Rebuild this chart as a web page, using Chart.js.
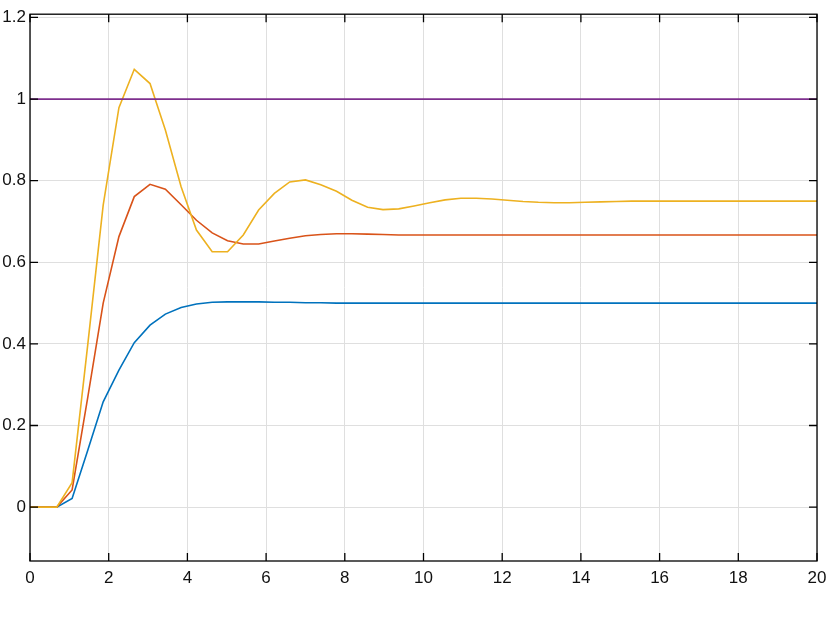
<!DOCTYPE html>
<html>
<head>
<meta charset="utf-8">
<script src="https://cdn.jsdelivr.net/npm/chart.js@4.4.1/dist/chart.umd.min.js"></script>
<style>
    body { margin: 0; background: #fff; }
    #chartBox { width: 840px; height: 619px; }
</style>
</head>
<body>
<div id="chartBox"><canvas id="myChart" width="840" height="619"></canvas></div>
<script>
// time samples
const timeValues = [0, 0.68, 1.07, 1.47, 1.86, 2.26, 2.65, 3.05, 3.44, 3.84, 4.23, 4.63, 5.02, 5.42, 5.81,
    6.21, 6.6, 7.0, 7.39, 7.79, 8.18, 8.58, 8.97, 9.37, 9.76, 10.16, 10.55, 10.95, 11.34, 11.74,
    12.13, 12.53, 12.92, 13.32, 13.71, 14.11, 14.5, 14.9, 15.29, 15.69, 16.08, 16.48, 16.87, 17.27,
    17.66, 18.06, 18.45, 18.85, 19.24, 19.64, 20.0];

const blueValues = [0, 0, 0.021, 0.14, 0.258, 0.336, 0.403, 0.446, 0.473, 0.489, 0.498, 0.502, 0.503, 0.503, 0.503,
    0.502, 0.502, 0.501, 0.501, 0.5, 0.5, 0.5, 0.5, 0.5, 0.5, 0.5, 0.5, 0.5, 0.5, 0.5,
    0.5, 0.5, 0.5, 0.5, 0.5, 0.5, 0.5, 0.5, 0.5, 0.5, 0.5, 0.5, 0.5, 0.5,
    0.5, 0.5, 0.5, 0.5, 0.5, 0.5, 0.5];

const redValues = [0, 0, 0.042, 0.27, 0.5, 0.663, 0.761, 0.791, 0.779, 0.741, 0.703, 0.672, 0.653, 0.645, 0.645,
    0.652, 0.659, 0.665, 0.668, 0.67, 0.67, 0.669, 0.668, 0.667, 0.667, 0.667, 0.667, 0.667, 0.667, 0.667,
    0.667, 0.667, 0.667, 0.667, 0.667, 0.667, 0.667, 0.667, 0.667, 0.667, 0.667, 0.667, 0.667, 0.667,
    0.667, 0.667, 0.667, 0.667, 0.667, 0.667, 0.667];

const yellowValues = [0, 0, 0.06, 0.40, 0.74, 0.979, 1.073, 1.038, 0.924, 0.785, 0.679, 0.626, 0.626, 0.667, 0.728,
    0.769, 0.797, 0.802, 0.79, 0.774, 0.752, 0.735, 0.729, 0.731, 0.738, 0.746, 0.753, 0.757, 0.757, 0.755,
    0.752, 0.749, 0.747, 0.746, 0.746, 0.747, 0.748, 0.749, 0.75, 0.75, 0.75, 0.75, 0.75, 0.75,
    0.75, 0.75, 0.75, 0.75, 0.75, 0.75, 0.75];

const inputTime = [0, 20];
const inputValues = [1, 1];

const xTicks = [0, 2, 4, 6, 8, 10, 12, 14, 16, 18, 20];
const yTicks = [0, 0.2, 0.4, 0.6, 0.8, 1, 1.2];

const toPoints = (xs, ys) => xs.map((x, i) => ({x: x, y: ys[i]}));

const lineSet = (values, times, color) => {
    return {
        data: toPoints(times, values),
        borderColor: color,
        borderWidth: 1.6,
        pointRadius: 0,
        tension: 0,
        fill: false
    };
};

// box round the plot + matlab style ticks pointing inwards
const boxPlugin = {
    id: 'boxPlugin',
    afterDatasetsDraw(chart) {
        const ctx = chart.ctx;
        const area = chart.chartArea;
        const xs = chart.scales.x;
        const ys = chart.scales.y;
        const len = 8;
        ctx.save();
        ctx.strokeStyle = '#000';
        ctx.lineWidth = 1.3;
        ctx.beginPath();
        xTicks.forEach((v) => {
            const px = xs.getPixelForValue(v);
            ctx.moveTo(px, area.bottom);
            ctx.lineTo(px, area.bottom - len);
            ctx.moveTo(px, area.top);
            ctx.lineTo(px, area.top + len);
        });
        yTicks.forEach((v) => {
            const py = ys.getPixelForValue(v);
            ctx.moveTo(area.left, py);
            ctx.lineTo(area.left + len, py);
            ctx.moveTo(area.right, py);
            ctx.lineTo(area.right - len, py);
        });
        ctx.stroke();
        ctx.strokeRect(area.left, area.top, area.right - area.left, area.bottom - area.top);
        ctx.restore();
    }
};

const config = {
    type: 'line',
    data: {
        datasets: [
            lineSet(inputValues, inputTime, '#7E2F8E'),
            lineSet(yellowValues, timeValues, '#EDB120'),
            lineSet(redValues, timeValues, '#D95319'),
            lineSet(blueValues, timeValues, '#0072BD')
        ]
    },
    options: {
        responsive: false,
        devicePixelRatio: 1,
        animation: false,
        layout: {padding: {top: 14, right: 23, left: 0, bottom: 0}},
        plugins: {legend: {display: false}, tooltip: {enabled: false}},
        scales: {
            x: {
                type: 'linear',
                min: 0,
                max: 20,
                afterFit: (scale) => { scale.height = 58; },
                afterBuildTicks: (scale) => { scale.ticks = xTicks.map((v) => ({value: v})); },
                grid: {color: '#dfdfdf', lineWidth: 1, drawTicks: false},
                border: {display: false},
                ticks: {
                    color: '#111',
                    padding: 7,
                    maxRotation: 0,
                    font: {family: 'Liberation Sans', size: 17},
                    callback: (v) => String(v)
                }
            },
            y: {
                type: 'linear',
                min: -0.132,
                max: 1.208,
                afterFit: (scale) => { scale.width = 30; },
                afterBuildTicks: (scale) => { scale.ticks = yTicks.map((v) => ({value: v})); },
                grid: {color: '#dfdfdf', lineWidth: 1, drawTicks: false},
                border: {display: false},
                ticks: {
                    color: '#111',
                    padding: 4,
                    font: {family: 'Liberation Sans', size: 17},
                    callback: (v) => String(+v.toFixed(2))
                }
            }
        }
    },
    plugins: [boxPlugin]
};

var myChart = new Chart(document.getElementById('myChart'), config);
</script>
</body>
</html>
